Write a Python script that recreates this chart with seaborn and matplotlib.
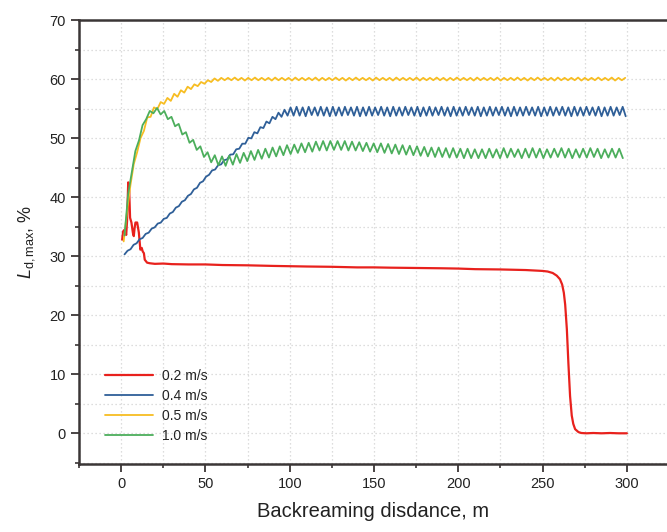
import numpy as np
import pandas as pd
import seaborn as sns
import matplotlib.pyplot as plt
from matplotlib.ticker import MultipleLocator

# ---------------- data ----------------
labels = ["0.2 m/s", "0.4 m/s", "0.5 m/s", "1.0 m/s"]
colors = ["#e8211d", "#2f5f98", "#f7bd22", "#4cae5c"]

# 0.2 m/s : explicit (x, y) points
red_x = [0.6, 1.2, 2.1, 3.0, 3.5, 4.2, 4.8, 5.3, 6.1, 7.0, 7.5, 8.0, 8.5, 9.5, 10.5,
         11.4, 12.2, 12.8, 13.5, 14.0, 15.4, 17, 20, 25, 30, 40, 50, 60, 75, 90, 100,
         110, 125, 140, 150, 160, 175, 190, 200, 210, 225, 240, 250, 253, 256, 258.4, 260.3,
         261.6, 262.6, 263.4, 264.4, 265.3, 266.3, 267.3, 268.2, 269.3, 271.3, 273, 276, 280,
         285, 290, 295, 300]
red_y = [32.8, 34.2, 34.5, 33.6, 35.9, 42.5, 41.0, 36.5, 35.7, 33.9, 33.4, 34.8, 35.7, 35.7, 34.0,
         31.1, 31.4, 30.8, 30.5, 29.4, 28.9, 28.8, 28.7, 28.75, 28.65, 28.6, 28.6, 28.5, 28.45, 28.35, 28.3,
         28.25, 28.2, 28.1, 28.1, 28.05, 28.0, 27.95, 27.9, 27.8, 27.75, 27.65, 27.5, 27.4, 27.15, 26.7, 26.1,
         25.2, 23.8, 21.8, 17.6, 11.9, 6.3, 3.0, 1.6, 0.7, 0.2, 0.05, 0.0, 0.05,
         0.0, 0.05, 0.0, 0.0]

# 0.4 m/s : zigzag vertices, evenly spaced from x=2.0 to x=299.3
blue_x_range = (2.0, 299.3)
blue_y = [30.3, 30.92, 31.18, 31.92, 32.18, 32.87, 33.08, 33.77, 33.98, 34.67, 34.88, 35.52, 35.68,
          36.32, 36.48, 37.22, 37.48, 38.22, 38.48, 39.22, 39.48, 40.22, 40.53, 41.32, 41.58, 42.42,
          42.68, 43.47, 43.78, 44.52, 44.68, 45.4, 45.55, 46.25, 46.4, 47.2, 47.25, 48.1, 48.2, 49.05,
          49.05, 50.05, 49.95, 51.0, 50.8, 51.85, 51.7, 52.8, 52.5, 53.6, 53.2, 54.3, 53.6, 54.8, 53.8,
          55.2, 53.8, 55.3, 53.8, 55.2, 53.7, 55.3, 53.9, 55.2, 53.8, 55.3, 53.8, 55.2, 53.7, 55.3, 53.8,
          55.2, 53.8, 55.3, 53.9, 55.2, 53.8, 55.3, 53.7, 55.2, 53.8, 55.3, 53.8, 55.2, 53.9, 55.3, 53.8,
          55.2, 53.7, 55.3, 53.8, 55.2, 53.8, 55.3, 53.9, 55.2, 53.8, 55.3, 53.7, 55.2, 53.8, 55.3, 53.8,
          55.2, 53.9, 55.3, 53.8, 55.2, 53.7, 55.3, 53.8, 55.2, 53.8, 55.3, 53.9, 55.2, 53.8, 55.3, 53.7,
          55.2, 53.8, 55.3, 53.8, 55.2, 53.9, 55.3, 53.8, 55.2, 53.7, 55.3, 53.8, 55.2, 53.8, 55.3, 53.9,
          55.2, 53.8, 55.3, 53.7, 55.2, 53.8, 55.3, 53.8, 55.2, 53.9, 55.3, 53.8, 55.2, 53.7, 55.3, 53.8,
          55.2, 53.8, 55.3, 53.9, 55.2, 53.8, 55.3, 53.7, 55.2, 53.8, 55.3, 53.8, 55.2, 53.9, 55.3, 53.7]

# 0.5 m/s : zigzag vertices, evenly spaced from x=1.5 to x=299.0
yellow_x_range = (1.5, 299.0)
yellow_y = [32.5, 37.6, 42.0, 45.6, 47.6, 50.0, 51.2, 53.5, 53.6, 55.2, 54.9, 56.1, 55.8, 56.8,
            56.3, 57.5, 57.0, 58.1, 57.7, 58.7, 58.3, 59.1, 58.8, 59.5, 59.2, 59.8, 59.5, 60.1,
            59.7, 60.2, 59.8,
            60.2, 59.8, 60.25, 59.8, 60.2, 59.75, 60.2, 59.8, 60.25, 59.8, 60.2, 59.8, 60.2, 59.75, 60.25, 59.8,
            60.2, 59.8, 60.2, 59.75, 60.25, 59.8, 60.2, 59.8, 60.2, 59.8, 60.25, 59.75, 60.2, 59.8, 60.2, 59.8,
            60.25, 59.8, 60.2, 59.75, 60.2, 59.8, 60.25, 59.8, 60.2, 59.8, 60.2, 59.75, 60.25, 59.8, 60.2, 59.8,
            60.2, 59.75, 60.25, 59.8, 60.2, 59.8, 60.2, 59.8, 60.25, 59.75, 60.2, 59.8, 60.2, 59.8, 60.25, 59.8,
            60.2, 59.75, 60.2, 59.8, 60.25, 59.8, 60.2, 59.8, 60.2, 59.75, 60.25, 59.8, 60.2, 59.8, 60.2, 59.8,
            60.25, 59.75, 60.2, 59.8, 60.2, 59.8, 60.25, 59.8, 60.2, 59.75, 60.2, 59.8, 60.25, 59.8, 60.2, 59.8,
            60.2, 59.75, 60.25, 59.8, 60.2, 59.8, 60.2, 59.8, 60.25, 59.75, 60.2, 59.8, 60.2, 59.8, 60.25, 59.8,
            60.2, 59.8, 60.25, 59.75, 60.2, 59.8, 60.2]

# 1.0 m/s : zigzag vertices, evenly spaced from x=2.0 to x=297.6
green_x_range = (2.0, 297.6)
green_y = [33.5, 40.5, 44.2, 47.8, 49.6, 52.2, 53.2, 54.6, 54.2, 55.1, 54.0, 54.6, 53.2, 53.6,
           52.0, 52.4, 50.6, 51.0, 49.2, 49.7, 48.0, 48.6, 46.8, 47.6, 45.9, 47.1, 45.4, 46.9,
           45.3, 47.0, 45.5, 47.3, 45.8, 47.5, 46.1, 47.8, 46.3, 48.0, 46.5, 48.2, 46.7, 48.4,
           46.9, 48.6, 47.1, 48.8, 47.3, 48.9, 47.5, 49.1, 47.6, 49.2, 47.7, 49.4, 47.9, 49.5,
           47.9, 49.5, 48.0, 49.5, 48.0, 49.5, 47.9, 49.4, 47.9, 49.3, 47.8, 49.2, 47.7, 49.1,
           47.6, 49.1, 47.5, 49.0, 47.4, 48.9, 47.3, 48.8, 47.2, 48.7, 47.1, 48.6, 47.0, 48.5,
           46.9, 48.4, 46.8, 48.4, 46.8, 48.3, 46.7, 48.3, 46.7, 48.2, 46.6, 48.2, 46.6, 48.1,
           46.6, 48.1, 46.6,
           48.2, 46.7, 48.1, 46.6, 48.3, 46.7, 48.2, 46.8, 48.1, 46.6, 48.2, 46.7, 48.3, 46.7,
           48.2, 46.6, 48.1, 46.7, 48.2, 46.8, 48.3, 46.7, 48.2, 46.6, 48.1, 46.7, 48.2, 46.7,
           48.3, 46.8, 48.2, 46.6, 48.1, 46.7, 48.2, 46.7, 48.2, 46.6]

x_major = [0, 50, 100, 150, 200, 250, 300]
y_major = [0, 10, 20, 30, 40, 50, 60, 70]

# ---------------- build table ----------------
def series(xr, ys):
    return np.linspace(xr[0], xr[1], len(ys))

frames = [
    pd.DataFrame({"x": red_x, "y": red_y, "speed": labels[0]}),
    pd.DataFrame({"x": series(blue_x_range, blue_y), "y": blue_y, "speed": labels[1]}),
    pd.DataFrame({"x": series(yellow_x_range, yellow_y), "y": yellow_y, "speed": labels[2]}),
    pd.DataFrame({"x": series(green_x_range, green_y), "y": green_y, "speed": labels[3]}),
]
df = pd.concat(frames, ignore_index=True)

# ---------------- style ----------------
sns.set_theme(style="white")
plt.rcParams['font.family'] = ['Liberation Sans', 'DejaVu Sans']
plt.rcParams['mathtext.fontset'] = 'custom'
plt.rcParams['mathtext.rm'] = 'Liberation Sans'
plt.rcParams['mathtext.it'] = 'Liberation Sans:italic'

W, H = 667, 532
fig = plt.figure(figsize=(W / 100, H / 100), dpi=100)
ax = fig.add_axes([79 / W, 1 - 464 / H, 1 - 79 / W, 444 / H])

for lab, col in zip(labels, colors):
    sub = df[df["speed"] == lab]
    sns.lineplot(data=sub, x="x", y="y", ax=ax, color=col, sort=False, estimator=None,
                 lw=1.6 if lab == labels[0] else 1.3, label=lab)

ax.set_xlim(-25, 323.8)
ax.set_ylim(-5.2, 70)
ax.set_xticks(x_major)
ax.set_yticks(y_major)
ax.xaxis.set_minor_locator(MultipleLocator(25))
ax.yaxis.set_minor_locator(MultipleLocator(5))
ax.grid(which='both', linestyle=(0, (1, 2.2)), color='#d2d2d2', lw=0.9)
ax.set_axisbelow(True)

spine_col = '#3b3636'
for s in ['left', 'bottom', 'top']:
    ax.spines[s].set_color(spine_col)
    ax.spines[s].set_linewidth(1.8)
ax.spines['right'].set_visible(False)

ax.tick_params(which='major', direction='out', length=5.5, width=1.3, color=spine_col,
               labelsize=10.5, labelcolor='#222222', bottom=True, left=True, pad=4)
ax.tick_params(which='minor', direction='out', length=2.8, width=1.2, color=spine_col,
               bottom=True, left=True)

ax.set_xlabel("Backreaming disdance, m", fontsize=14.5, color='#222222', labelpad=8)
ax.set_ylabel(r"$L_{\mathrm{d,max}}$, %", fontsize=13, color='#222222', labelpad=9)

leg = ax.legend(loc='upper left', bbox_to_anchor=((105 - 79) / 588, (464 - 369) / 444),
                frameon=False, fontsize=10, handlelength=3.45, handletextpad=0.65,
                labelspacing=0.42, borderpad=0, borderaxespad=0)
for t in leg.get_texts():
    t.set_color('#222222')

fig.savefig("out.png", dpi=100)
